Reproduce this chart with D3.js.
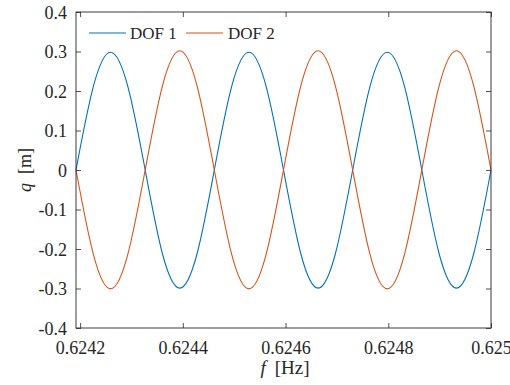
<!DOCTYPE html>
<html>
<head>
<meta charset="utf-8">
<script src="https://cdn.jsdelivr.net/npm/d3@7"></script>
<style>
  html, body { margin: 0; padding: 0; background: #fff; }
  svg { display: block; }
  svg text { font-family: "Liberation Serif", "Tinos", "Times New Roman", "DejaVu Serif", serif !important; fill: #262626; }
</style>
</head>
<body>
<svg id="chart" width="510" height="385"></svg>
<script>
// Frequency samples [Hz]
const freq = [
  0.6241920, 0.6242257, 0.6242593, 0.6242930, 0.6243267, 0.6243603, 0.6243940,
  0.6244277, 0.6244613, 0.6244950, 0.6245287, 0.6245623, 0.6245960, 0.6246297,
  0.6246633, 0.6246970, 0.6247307, 0.6247643, 0.6247980, 0.6248317, 0.6248653,
  0.6248990, 0.6249327, 0.6249663, 0.6250000
];
// Displacement of each degree of freedom [m]
const dof1 = [
  0.000, 0.211, 0.298, 0.211, 0.000, -0.212, -0.299, -0.212,
  0.000, 0.211, 0.298, 0.211, 0.000, -0.212, -0.299, -0.212,
  0.000, 0.211, 0.298, 0.211, 0.000, -0.212, -0.299, -0.212, 0.000
];
const dof2 = [
  0.000, -0.213, -0.301, -0.213, 0.000, 0.213, 0.302, 0.213,
  0.000, -0.213, -0.301, -0.213, 0.000, 0.213, 0.302, 0.213,
  0.000, -0.213, -0.301, -0.213, 0.000, 0.213, 0.302, 0.213, 0.000
];
const seriesNames = ["DOF 1", "DOF 2"];
const seriesColors = ["#0072BD", "#D95319"];
const xTicks = [0.6242, 0.6244, 0.6246, 0.6248, 0.625];
const xTickLabels = ["0.6242", "0.6244", "0.6246", "0.6248", "0.625"];
const yTicks = [-0.4, -0.3, -0.2, -0.1, 0, 0.1, 0.2, 0.3, 0.4];
const yTickLabels = ["-0.4", "-0.3", "-0.2", "-0.1", "0", "0.1", "0.2", "0.3", "0.4"];

const svg = d3.select("#chart");
const L = 76, R = 491, T = 12, B = 328;
const axisColor = "#262626";
const serif = '"Liberation Serif", "Tinos", "Times New Roman", serif';

const x = d3.scaleLinear().domain([0.624192, 0.625]).range([L, R]);
const y = d3.scaleLinear().domain([-0.4, 0.4]).range([B, T]);

// Axes on all four sides with inward ticks
const gx = svg.append("g").attr("transform", `translate(0,${B})`)
  .call(d3.axisBottom(x).tickValues(xTicks).tickSizeInner(-5).tickSizeOuter(0).tickPadding(13)
    .tickFormat((d, i) => xTickLabels[i]));
const gxt = svg.append("g").attr("transform", `translate(0,${T})`)
  .call(d3.axisTop(x).tickValues(xTicks).tickSizeInner(-5).tickSizeOuter(0).tickFormat(""));
const gy = svg.append("g").attr("transform", `translate(${L},0)`)
  .call(d3.axisLeft(y).tickValues(yTicks).tickSizeInner(-5).tickSizeOuter(0).tickPadding(9)
    .tickFormat((d, i) => yTickLabels[i]));
const gyr = svg.append("g").attr("transform", `translate(${R},0)`)
  .call(d3.axisRight(y).tickValues(yTicks).tickSizeInner(-5).tickSizeOuter(0).tickFormat(""));

[gx, gxt, gy, gyr].forEach(g => {
  g.attr("font-family", serif).attr("font-size", 18);
  g.select(".domain").remove();
  g.selectAll(".tick line").attr("stroke", axisColor).attr("stroke-width", 0.8);
  g.selectAll(".tick text").attr("fill", axisColor);
});
gy.selectAll(".tick text").attr("dy", "0.35em");

// Data lines
const line = d3.line().x((d, i) => x(freq[i])).y(d => y(d)).curve(d3.curveNatural);
[dof1, dof2].forEach((s, k) => {
  svg.append("path").datum(s).attr("d", line)
    .attr("fill", "none").attr("stroke", seriesColors[k]).attr("stroke-width", 1.1);
});

// Frame
svg.append("rect").attr("x", L).attr("y", T).attr("width", R - L).attr("height", B - T)
  .attr("fill", "none").attr("stroke", axisColor).attr("stroke-width", 0.9);

// Legend
const legendItems = [{x: 89, tx: 130}, {x: 186, tx: 228}];
legendItems.forEach((p, k) => {
  svg.append("line").attr("x1", p.x).attr("x2", p.x + 37).attr("y1", 33).attr("y2", 33)
    .attr("stroke", seriesColors[k]).attr("stroke-width", 1.1);
  svg.append("text").attr("x", p.tx).attr("y", 39).attr("font-size", 17).text(seriesNames[k]);
});

// Axis labels
const xl = svg.append("text").attr("x", 285).attr("y", 374).attr("text-anchor", "middle").attr("font-size", 19);
xl.append("tspan").attr("font-style", "italic").text("f");
xl.append("tspan").attr("dx", 9).text("[Hz]");

const yl = svg.append("text").attr("transform", "translate(31,170) rotate(-90)")
  .attr("text-anchor", "middle").attr("font-size", 18);
yl.append("tspan").attr("font-style", "italic").text("q");
yl.append("tspan").attr("dx", 9).text("[m]");
</script>
</body>
</html>
